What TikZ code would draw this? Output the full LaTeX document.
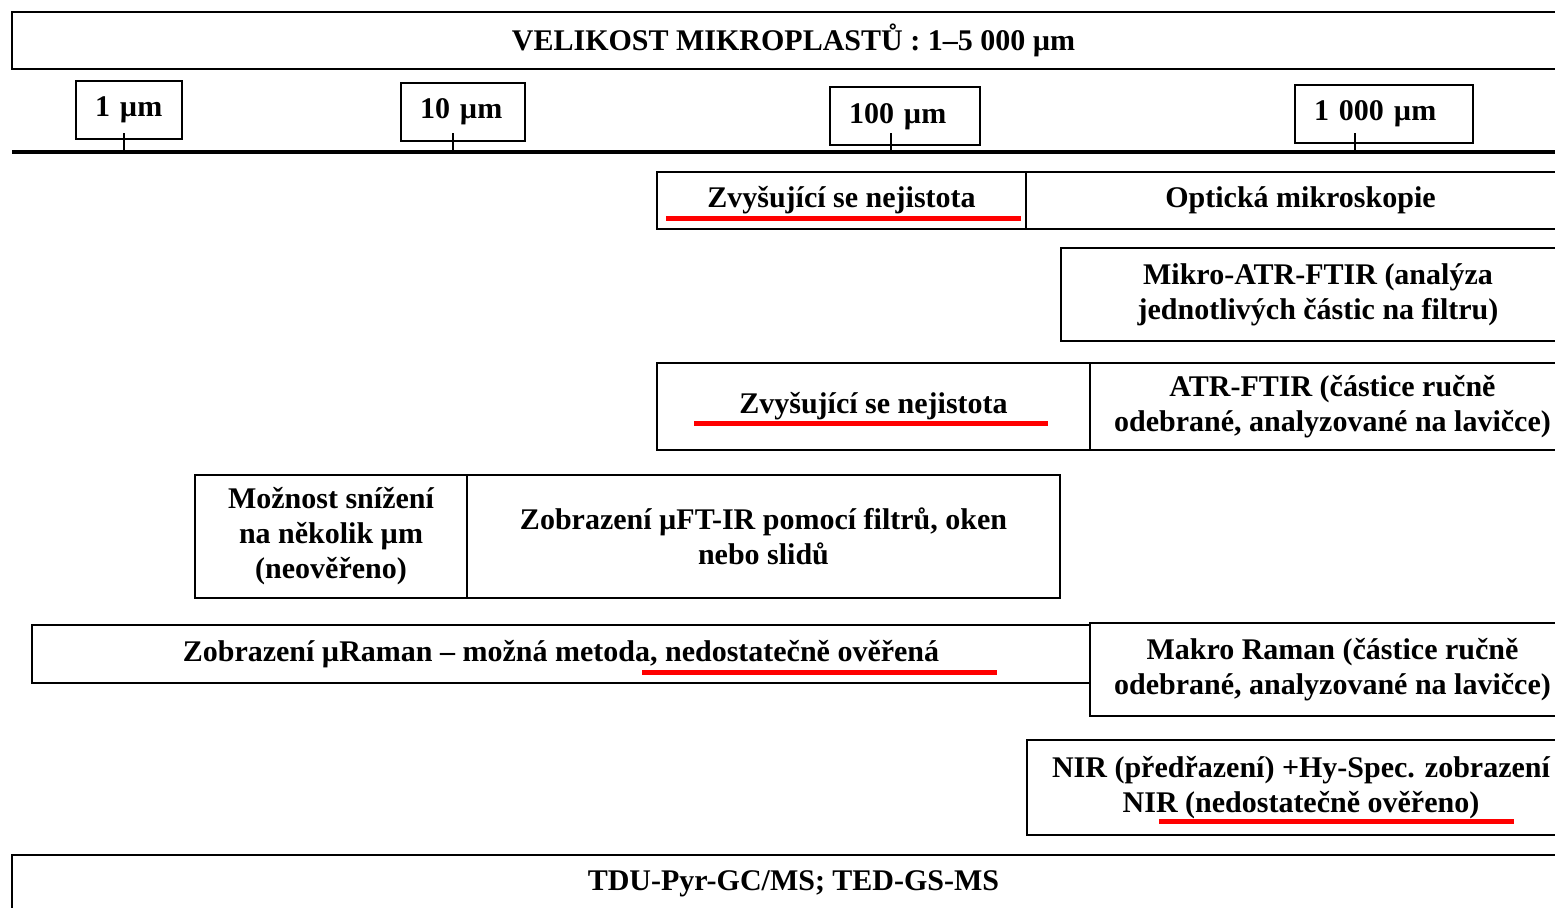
\documentclass[tikz,border=0pt]{standalone}
\usepackage{fontspec}
\setmainfont{Liberation Serif}
\begin{document}
\begin{tikzpicture}[x=0.5pt,y=-0.5pt,
    cell/.style={draw,line width=1pt,inner sep=2pt,align=center,
      font=\fontsize{15}{17.5}\selectfont\bfseries},
    scalebox/.style={draw,line width=1pt,inner xsep=9.5pt,inner ysep=0pt,align=left,
      minimum height=29pt,font=\fontsize{15}{17.5}\selectfont\bfseries},
    redline/.style={red,line width=2.5pt},
    tick/.style={line width=0.8pt}]
  \useasboundingbox (0,0) rectangle (1555,908);
  \clip (0,0) rectangle (1555,908);
  % header and scale
  \node[cell,minimum width=781.5pt,minimum height=28.5pt] (title) at (793.5,40.5) {VELIKOST MIKROPLASTŮ : 1–5 000 µm};
  \draw[line width=2pt] (12,152) -- (1580,152);
  \node[scalebox,text width=34pt] (b1) at (129,110) {1 µm};
  \node[scalebox,text width=43pt] (b10) at (463,112) {10 µm};
  \node[scalebox,text width=56pt] (b100) at (905,116.5) {100 µm};
  \node[scalebox,text width=70pt] (b1000) at (1384,114) {1 000 µm};
  \coordinate (t1) at (124,152);
  \coordinate (t10) at (453,152);
  \coordinate (t100) at (891,152);
  \coordinate (t1000) at (1355,152);
  \draw[tick] (t1) -- ++(0,-19);
  \draw[tick] (t10) -- ++(0,-19);
  \draw[tick] (t100) -- ++(0,-19);
  \draw[tick] (t1000) -- ++(0,-19);
  % methods
  \node[cell,minimum width=184.5pt,minimum height=28.5pt] (unc1) at (841.5,200.5) {Zvyšující se nejistota};
  \node[cell,minimum width=274.5pt,minimum height=28.5pt] (opt) at (1300.5,200.5) {Optická mikroskopie};
  \node[cell,minimum width=257pt,minimum height=46.5pt] (mikro) at (1318,294.5) {Mikro-ATR-FTIR (analýza\\jednotlivých částic na filtru)};
  \node[cell,minimum width=216.5pt,minimum height=43.5pt] (unc2) at (873.5,406.5) {\raisebox{3pt}{Zvyšující se nejistota}};
  \node[cell,minimum width=242.5pt,minimum height=43.5pt] (atr) at (1332.5,406.5) {ATR-FTIR (částice ručně\\odebrané, analyzované na lavičce)};
  \node[cell,minimum width=136pt,minimum height=61.5pt] (mozn) at (331,536.5) {Možnost snížení\\na několik µm\\(neověřeno)};
  \node[cell,minimum width=296.5pt,minimum height=61.5pt] (ftir) at (763.5,536.5) {Zobrazení µFT-IR pomocí filtrů, oken\\nebo slidů};
  \node[cell,minimum width=529pt,minimum height=29pt] (raman) at (561,654) {Zobrazení µRaman – možná metoda, nedostatečně ověřená};
  \node[cell,minimum width=242.5pt,minimum height=46.5pt] (makro) at (1332.5,669.5) {Makro Raman (částice ručně\\odebrané, analyzované na lavičce)};
  \node[cell,minimum width=274pt,minimum height=47.5pt] (nir) at (1301,787.5) {NIR (předřazení) +Hy-Spec. zobrazení\\NIR (nedostatečně ověřeno)};
  \node[cell,minimum width=781.5pt,minimum height=29pt] (tdu) at (793.5,884) {TDU-Pyr-GC/MS; TED-GS-MS};
  % red underlines
  \draw[redline] (666,219) -- (1021,219);
  \draw[redline] (694,424) -- (1048,424);
  \draw[redline] (642,673) -- (997,673);
  \draw[redline] (1159,822) -- (1514,822);
\end{tikzpicture}
\end{document}
